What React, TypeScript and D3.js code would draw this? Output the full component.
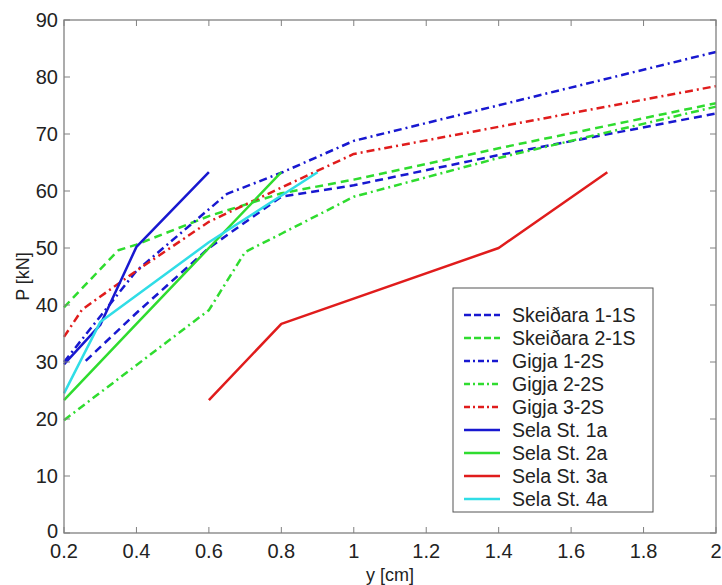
import React from "react";
import * as d3 from "d3";

// ---- data ----
const xTicks = [0.2, 0.4, 0.6, 0.8, 1, 1.2, 1.4, 1.6, 1.8, 2];
const yTicks = [0, 10, 20, 30, 40, 50, 60, 70, 80, 90];

const skeidara11: [number, number][] = [[0.26, 30.2], [0.4, 38.6], [0.6, 50], [0.8, 59], [1.0, 61], [1.4, 66.3], [2.0, 73.6]];
const skeidara21: [number, number][] = [[0.2, 39.6], [0.35, 49.6], [0.4, 50.6], [0.6, 55.6], [0.8, 59.6], [1.0, 62], [1.4, 67.5], [2.0, 75.4]];
const gigja12: [number, number][] = [[0.2, 30], [0.4, 46], [0.65, 59.5], [0.8, 63.2], [1.0, 68.8], [2.0, 84.4]];
const gigja22: [number, number][] = [[0.2, 19.8], [0.6, 39.1], [0.7, 49.3], [0.8, 52.5], [1.0, 59], [1.4, 65.8], [2.0, 74.8]];
const gigja32: [number, number][] = [[0.2, 34.4], [0.25, 39.2], [0.4, 46], [0.6, 54.6], [0.8, 60.6], [1.0, 66.5], [2.0, 78.4]];
const sela1a: [number, number][] = [[0.2, 29.6], [0.3, 36.5], [0.4, 50.2], [0.6, 63.3]];
const sela2a: [number, number][] = [[0.2, 23.3], [0.4, 36.7], [0.6, 50], [0.8, 63.3]];
const sela3a: [number, number][] = [[0.6, 23.3], [0.8, 36.7], [1.4, 50], [1.7, 63.3]];
const sela4a: [number, number][] = [[0.2, 24.5], [0.3, 37], [0.6, 51], [0.9, 63.3]];

const seriesNames = [
  "Skeiðara 1-1S", "Skeiðara 2-1S", "Gigja 1-2S", "Gigja 2-2S", "Gigja 3-2S",
  "Sela St. 1a", "Sela St. 2a", "Sela St. 3a", "Sela St. 4a",
];
const seriesData = [skeidara11, skeidara21, gigja12, gigja22, gigja32, sela1a, sela2a, sela3a, sela4a];

// ---- styles ----
const BLUE = "#1818d0";
const GREEN = "#2fdc2f";
const RED = "#e01c1c";
const CYAN = "#30dde6";
const DASH = "8,5";
const DASHDOT = "8,4,2,4";
const seriesStyle = [
  { color: BLUE, dash: DASH },
  { color: GREEN, dash: DASH },
  { color: BLUE, dash: DASHDOT },
  { color: GREEN, dash: DASHDOT },
  { color: RED, dash: DASHDOT },
  { color: BLUE, dash: "" },
  { color: GREEN, dash: "" },
  { color: RED, dash: "" },
  { color: CYAN, dash: "" },
];

const W = 722, H = 585;
const L = 64, R = 716, T = 20, B = 533;
const FONT = "Liberation Sans, Arial, sans-serif";

export default function App() {
  const x = d3.scaleLinear().domain([0.2, 2]).range([L, R]);
  const y = d3.scaleLinear().domain([0, 90]).range([B, T]);
  const line = d3.line<[number, number]>().x(d => x(d[0])).y(d => y(d[1]));

  const legX = 453, legY = 288, legW = 200, legH = 224;
  const rowY0 = 315, rowDy = 23;

  return (
    <svg width={W} height={H} style={{ position: "absolute", left: 0, top: 0, background: "#fff" }} fontFamily={FONT}>
      <rect x={0} y={0} width={W} height={H} fill="#fff" />
      {/* series */}
      <g>
        {seriesData.map((s, i) => (
          <path key={i} d={line(s) || ""} fill="none" stroke={seriesStyle[i].color}
            strokeWidth={2.5} strokeDasharray={seriesStyle[i].dash || undefined}
            strokeLinejoin="round" />
        ))}
      </g>
      {/* frame */}
      <rect x={L} y={T} width={R - L} height={B - T} fill="none" stroke="#808080" strokeWidth={1.3} />
      {/* ticks */}
      {xTicks.map((t, i) => (
        <g key={"xt" + i}>
          <line x1={x(t)} x2={x(t)} y1={B} y2={B - 6} stroke="#808080" />
          <line x1={x(t)} x2={x(t)} y1={T} y2={T + 6} stroke="#808080" />
          <text x={x(t)} y={B + 25} fontSize={20} textAnchor="middle" fill="#222">{String(t)}</text>
        </g>
      ))}
      {yTicks.map((t, i) => (
        <g key={"yt" + i}>
          <line x1={L} x2={L + 6} y1={y(t)} y2={y(t)} stroke="#808080" />
          <line x1={R} x2={R - 6} y1={y(t)} y2={y(t)} stroke="#808080" />
          <text x={L - 6} y={y(t) + (t === 0 ? 5 : 7)} fontSize={20} textAnchor="end" fill="#222">{String(t)}</text>
        </g>
      ))}
      {/* axis labels */}
      <text x={(L + R) / 2} y={581} fontSize={18} textAnchor="middle" fill="#222">y [cm]</text>
      <text transform={`translate(29, ${(T + B) / 2}) rotate(-90)`} fontSize={18} textAnchor="middle" fill="#222">P [kN]</text>
      {/* legend */}
      <rect x={legX} y={legY} width={legW} height={legH} fill="#fff" stroke="#555" strokeWidth={1} />
      {seriesNames.map((n, i) => (
        <g key={"lg" + i}>
          <line x1={464} x2={500} y1={rowY0 + i * rowDy} y2={rowY0 + i * rowDy}
            stroke={seriesStyle[i].color} strokeWidth={2.5}
            strokeDasharray={seriesStyle[i].dash ? (seriesStyle[i].dash === DASH ? "7,3" : "6,3,2,3") : undefined} />
          <text x={512} y={rowY0 + i * rowDy + 7} fontSize={19.5} fill="#222">{n}</text>
        </g>
      ))}
    </svg>
  );
}
